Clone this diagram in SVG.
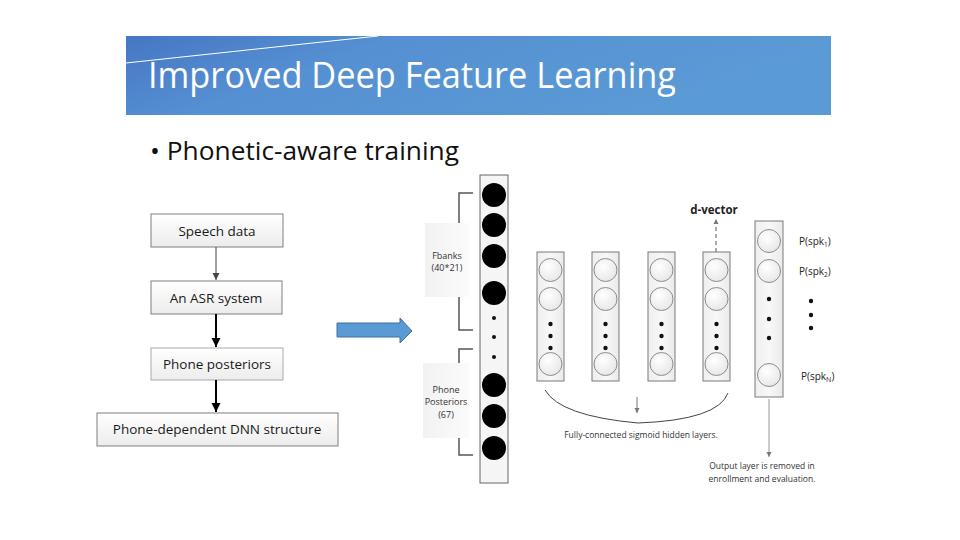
<svg xmlns="http://www.w3.org/2000/svg" width="960" height="540" viewBox="0 0 960 540">
<defs>
<linearGradient id="banner" x1="0" y1="0" x2="1" y2="0.3">
<stop offset="0" stop-color="#4676c4"/>
<stop offset="0.35" stop-color="#5590d2"/>
<stop offset="1" stop-color="#5b9bd5"/>
</linearGradient>
<linearGradient id="boxg" x1="0" y1="0" x2="0" y2="1">
<stop offset="0" stop-color="#ffffff"/>
<stop offset="1" stop-color="#ececec"/>
</linearGradient>
<linearGradient id="colg" x1="0" y1="0" x2="1" y2="0">
<stop offset="0" stop-color="#eeeeee"/>
<stop offset="0.5" stop-color="#f8f8f8"/>
<stop offset="1" stop-color="#eaeaea"/>
</linearGradient>
<radialGradient id="cirg" cx="0.4" cy="0.35" r="0.7">
<stop offset="0" stop-color="#ffffff"/>
<stop offset="1" stop-color="#e6e6e6"/>
</radialGradient>
<linearGradient id="labg" x1="0" y1="0" x2="1" y2="0">
<stop offset="0" stop-color="#f2f2f2"/>
<stop offset="1" stop-color="#fbfbfb"/>
</linearGradient>
<marker id="ahThin" markerWidth="8" markerHeight="8" refX="7" refY="4" orient="auto" markerUnits="userSpaceOnUse">
<path d="M0,0.5 L7,4 L0,7.5 Z" fill="#444"/>
</marker>
<marker id="ahBold" markerWidth="10" markerHeight="10" refX="9" refY="5" orient="auto" markerUnits="userSpaceOnUse">
<path d="M0,0.5 L9,5 L0,9.5 Z" fill="#000"/>
</marker>
<marker id="ahGray" markerWidth="6" markerHeight="6" refX="5" refY="3" orient="auto" markerUnits="userSpaceOnUse">
<path d="M0,0.5 L5,3 L0,5.5 Z" fill="#777"/>
</marker>
</defs>
<style>
.box{fill:url(#boxg);stroke:#7f7f7f;stroke-width:1}
.bt{font-family:"Open Sans","Liberation Sans",sans-serif;font-size:13.5px;fill:#1a1a1a;text-anchor:middle}
.col{fill:url(#colg);stroke:#7a7a7a;stroke-width:1}
.cir{fill:url(#cirg);stroke:#8c8c8c;stroke-width:1}
.blk{fill:#000}
.dot{fill:#111}
.lab{fill:url(#labg);stroke:none}
.brk{fill:none;stroke:#555;stroke-width:1.5}
.st{font-family:"Open Sans","Liberation Sans",sans-serif;font-size:9px;fill:#333;text-anchor:middle}
.pt{font-family:"Open Sans","Liberation Sans",sans-serif;font-size:10px;fill:#222}
</style>
<rect width="960" height="540" fill="#ffffff"/>
<g id="banner-title">
<rect x="126" y="36" width="705" height="79" fill="url(#banner)"/>
<line x1="126" y1="63" x2="378" y2="36" stroke="#ffffff" stroke-width="1"/>
<text x="148" y="88" font-family="Open Sans, Liberation Sans, sans-serif" font-size="37" fill="#ffffff" textLength="528" lengthAdjust="spacingAndGlyphs">Improved Deep Feature Learning</text>
</g>
<g id="bullet">
<text x="150" y="160" font-family="Open Sans, Liberation Sans, sans-serif" font-size="25" fill="#111" textLength="309" lengthAdjust="spacingAndGlyphs">• Phonetic-aware training</text>
</g>
<g id="node-speech">
<rect class="box" x="151" y="214" width="132" height="33"/>
<text class="bt" x="217" y="236">Speech data</text>
</g>
<g id="node-asr">
<rect class="box" x="151" y="281" width="131" height="33"/>
<text class="bt" x="216" y="303">An ASR system</text>
</g>
<g id="node-phone">
<rect class="box" x="151" y="348" width="132" height="32" style="stroke:#aaa"/>
<text class="bt" x="217" y="369">Phone posteriors</text>
</g>
<g id="node-dnn">
<rect class="box" x="97" y="413" width="241" height="33"/>
<text class="bt" x="217" y="434">Phone-dependent DNN structure</text>
</g>
<g id="connectors">
<line x1="216" y1="247" x2="216" y2="280" stroke="#444" stroke-width="1" marker-end="url(#ahThin)"/>
<line x1="216" y1="314" x2="216" y2="347" stroke="#000" stroke-width="2" marker-end="url(#ahBold)"/>
<line x1="216" y1="380" x2="216" y2="412" stroke="#000" stroke-width="2" marker-end="url(#ahBold)"/>
<line x1="716" y1="252" x2="716" y2="219" stroke="#555" stroke-width="1" stroke-dasharray="4,3" marker-end="url(#ahGray)"/>
<line x1="637" y1="397" x2="637" y2="413" stroke="#777" stroke-width="1" marker-end="url(#ahGray)"/>
<line x1="769" y1="399" x2="769" y2="457" stroke="#999" stroke-width="1" marker-end="url(#ahGray)"/>
<path d="M545,390 Q560,416 638,423 Q718,420 728,393" fill="none" stroke="#444" stroke-width="1"/>
</g>
<g id="blue-arrow">
<path d="M337,323 L400,323 L400,318 L412,331 L400,343 L400,337 L337,337 Z" fill="#5b9bd5" stroke="#41719c" stroke-width="1"/>
</g>
<g id="input-layer">
<path class="brk" d="M473,193 L459,193 L459,330 L473,330"/>
<path class="brk" d="M473,349 L459,349 L459,455 L473,455"/>
<rect class="lab" x="425" y="223" width="44" height="74"/>
<text class="st" x="447" y="259">Fbanks</text>
<text class="st" x="447" y="271">(40*21)</text>
<rect class="lab" x="423" y="363" width="46" height="75"/>
<text class="st" x="446" y="393">Phone</text>
<text class="st" x="446" y="405">Posteriors</text>
<text class="st" x="446" y="418">(67)</text>
<rect x="480" y="175" width="28" height="308" fill="#f5f5f5" stroke="#666" stroke-width="1"/>
<circle class="blk" cx="494" cy="195" r="12"/>
<circle class="blk" cx="494" cy="225" r="12"/>
<circle class="blk" cx="494" cy="256" r="12"/>
<circle class="blk" cx="494" cy="293" r="12"/>
<circle class="dot" cx="494" cy="318" r="2"/>
<circle class="dot" cx="494" cy="337" r="2"/>
<circle class="dot" cx="494" cy="357" r="2"/>
<circle class="blk" cx="494" cy="385" r="12"/>
<circle class="blk" cx="494" cy="416" r="12"/>
<circle class="blk" cx="494" cy="448" r="12"/>
</g>
<g id="hidden-1">
<rect class="col" x="537" y="252" width="27" height="129"/>
<circle class="cir" cx="550.5" cy="270" r="11.5"/>
<circle class="cir" cx="550.5" cy="299" r="11.5"/>
<circle class="dot" cx="550.5" cy="324" r="2.2"/>
<circle class="dot" cx="550.5" cy="336" r="2.2"/>
<circle class="dot" cx="550.5" cy="348" r="2.2"/>
<circle class="cir" cx="550.5" cy="364" r="11.5"/>
</g>
<g id="hidden-2">
<rect class="col" x="592" y="252" width="27" height="129"/>
<circle class="cir" cx="605.5" cy="270" r="11.5"/>
<circle class="cir" cx="605.5" cy="299" r="11.5"/>
<circle class="dot" cx="605.5" cy="324" r="2.2"/>
<circle class="dot" cx="605.5" cy="336" r="2.2"/>
<circle class="dot" cx="605.5" cy="348" r="2.2"/>
<circle class="cir" cx="605.5" cy="364" r="11.5"/>
</g>
<g id="hidden-3">
<rect class="col" x="648" y="252" width="27" height="129"/>
<circle class="cir" cx="661.5" cy="270" r="11.5"/>
<circle class="cir" cx="661.5" cy="299" r="11.5"/>
<circle class="dot" cx="661.5" cy="324" r="2.2"/>
<circle class="dot" cx="661.5" cy="336" r="2.2"/>
<circle class="dot" cx="661.5" cy="348" r="2.2"/>
<circle class="cir" cx="661.5" cy="364" r="11.5"/>
</g>
<g id="hidden-4">
<rect class="col" x="703" y="252" width="27" height="129"/>
<circle class="cir" cx="716.5" cy="270" r="11.5"/>
<circle class="cir" cx="716.5" cy="299" r="11.5"/>
<circle class="dot" cx="716.5" cy="324" r="2.2"/>
<circle class="dot" cx="716.5" cy="336" r="2.2"/>
<circle class="dot" cx="716.5" cy="348" r="2.2"/>
<circle class="cir" cx="716.5" cy="364" r="11.5"/>
</g>
<g id="dvector-label">
<text x="714" y="214" font-family="Open Sans, Liberation Sans, sans-serif" font-size="11.5" font-weight="bold" fill="#222" text-anchor="middle">d-vector</text>
</g>
<g id="hidden-caption">
<text x="641" y="438" font-family="Open Sans, Liberation Sans, sans-serif" font-size="8.5" fill="#333" text-anchor="middle">Fully-connected sigmoid hidden layers.</text>
</g>
<g id="output-layer">
<rect class="col" x="755" y="221" width="28" height="176"/>
<circle class="cir" cx="769" cy="241" r="11.5"/>
<circle class="cir" cx="769" cy="271" r="11.5"/>
<circle class="dot" cx="769" cy="299" r="2.2"/>
<circle class="dot" cx="769" cy="319" r="2.2"/>
<circle class="dot" cx="769" cy="338" r="2.2"/>
<circle class="cir" cx="769" cy="375" r="11.5"/>
<text class="pt" x="799" y="245">P(spk<tspan font-size="6.5" dy="2">1</tspan><tspan dy="-2">)</tspan></text>
<text class="pt" x="799" y="275">P(spk<tspan font-size="6.5" dy="2">2</tspan><tspan dy="-2">)</tspan></text>
<circle class="dot" cx="811" cy="301" r="2.2"/>
<circle class="dot" cx="811" cy="315" r="2.2"/>
<circle class="dot" cx="811" cy="328" r="2.2"/>
<text class="pt" x="801" y="380" font-size="10.5">P(spk<tspan font-size="7" dy="2">N</tspan><tspan dy="-2">)</tspan></text>
</g>
<g id="output-caption">
<text x="762" y="469" font-family="Open Sans, Liberation Sans, sans-serif" font-size="8.5" fill="#333" text-anchor="middle">Output layer is removed in</text>
<text x="762" y="482" font-family="Open Sans, Liberation Sans, sans-serif" font-size="8.5" fill="#333" text-anchor="middle">enrollment and evaluation.</text>
</g>
</svg>
